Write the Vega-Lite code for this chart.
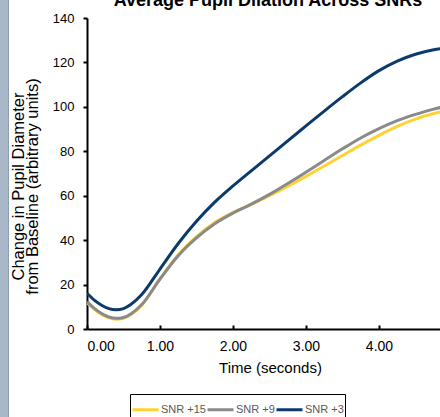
{
  "$schema": "https://vega.github.io/schema/vega-lite/v6.json",
  "autosize": "none",
  "width": 353,
  "height": 311,
  "padding": {"left": 87, "top": 18, "right": 0, "bottom": 88},
  "background": "white",
  "config": {"view": {"stroke": null}, "font": "Liberation Sans"},
  "title": {
    "text": "Average Pupil Dilation Across SNRs",
    "anchor": "middle",
    "baseline": "alphabetic",
    "offset": -29,
    "dx": 4.5,
    "fontSize": 18,
    "font": "Liberation Sans",
    "fontWeight": "bold",
    "color": "black"
  },
  "layer": [
    {
      "data": {"values": [{"k": 1}]},
      "mark": {"type": "rect", "clip": false, "color": "#A9B8C8", "stroke": "#8E9DAE", "strokeWidth": 1},
      "encoding": {
        "x": {"datum": -1.3, "type": "quantitative", "scale": {"domain": [0, 4.836], "nice": false}},
        "x2": {"datum": -1.075},
        "y": {"datum": 150, "type": "quantitative", "scale": {"domain": [0, 140], "nice": false}},
        "y2": {"datum": -45}
      }
    },
    {
      "data": {"values": [
        {"t": 0, "v": 11.8, "s": "SNR +15"}, {"t": 0.1, "v": 8.9, "s": "SNR +15"}, {"t": 0.2, "v": 6.6, "s": "SNR +15"}, {"t": 0.3, "v": 5.0, "s": "SNR +15"}, {"t": 0.4, "v": 4.4, "s": "SNR +15"}, {"t": 0.5, "v": 4.8, "s": "SNR +15"}, {"t": 0.6, "v": 6.4, "s": "SNR +15"}, {"t": 0.75, "v": 10.6, "s": "SNR +15"}, {"t": 1.0, "v": 22.6, "s": "SNR +15"}, {"t": 1.25, "v": 33.4, "s": "SNR +15"}, {"t": 1.5, "v": 41.6, "s": "SNR +15"}, {"t": 1.75, "v": 47.9, "s": "SNR +15"}, {"t": 2.0, "v": 52.4, "s": "SNR +15"}, {"t": 2.25, "v": 56.1, "s": "SNR +15"}, {"t": 2.5, "v": 60.0, "s": "SNR +15"}, {"t": 2.75, "v": 64.3, "s": "SNR +15"}, {"t": 3.0, "v": 68.7, "s": "SNR +15"}, {"t": 3.25, "v": 73.4, "s": "SNR +15"}, {"t": 3.5, "v": 78.1, "s": "SNR +15"}, {"t": 3.75, "v": 82.8, "s": "SNR +15"}, {"t": 4.0, "v": 87.2, "s": "SNR +15"}, {"t": 4.25, "v": 91.2, "s": "SNR +15"}, {"t": 4.5, "v": 94.5, "s": "SNR +15"}, {"t": 4.75, "v": 97.0, "s": "SNR +15"}, {"t": 5.0, "v": 98.8, "s": "SNR +15"},
        {"t": 0, "v": 12.3, "s": "SNR +9"}, {"t": 0.1, "v": 9.3, "s": "SNR +9"}, {"t": 0.2, "v": 7.0, "s": "SNR +9"}, {"t": 0.3, "v": 5.4, "s": "SNR +9"}, {"t": 0.4, "v": 4.8, "s": "SNR +9"}, {"t": 0.5, "v": 5.2, "s": "SNR +9"}, {"t": 0.6, "v": 6.8, "s": "SNR +9"}, {"t": 0.75, "v": 11.0, "s": "SNR +9"}, {"t": 1.0, "v": 22.5, "s": "SNR +9"}, {"t": 1.25, "v": 33.0, "s": "SNR +9"}, {"t": 1.5, "v": 41.0, "s": "SNR +9"}, {"t": 1.75, "v": 47.4, "s": "SNR +9"}, {"t": 2.0, "v": 52.2, "s": "SNR +9"}, {"t": 2.25, "v": 56.2, "s": "SNR +9"}, {"t": 2.5, "v": 60.6, "s": "SNR +9"}, {"t": 2.75, "v": 65.5, "s": "SNR +9"}, {"t": 3.0, "v": 70.6, "s": "SNR +9"}, {"t": 3.25, "v": 75.9, "s": "SNR +9"}, {"t": 3.5, "v": 81.1, "s": "SNR +9"}, {"t": 3.75, "v": 86.0, "s": "SNR +9"}, {"t": 4.0, "v": 90.2, "s": "SNR +9"}, {"t": 4.25, "v": 93.8, "s": "SNR +9"}, {"t": 4.5, "v": 96.6, "s": "SNR +9"}, {"t": 4.75, "v": 99.0, "s": "SNR +9"}, {"t": 5.0, "v": 100.8, "s": "SNR +9"},
        {"t": 0, "v": 16.1, "s": "SNR +3"}, {"t": 0.1, "v": 13.0, "s": "SNR +3"}, {"t": 0.2, "v": 10.7, "s": "SNR +3"}, {"t": 0.3, "v": 9.2, "s": "SNR +3"}, {"t": 0.4, "v": 8.7, "s": "SNR +3"}, {"t": 0.5, "v": 9.2, "s": "SNR +3"}, {"t": 0.6, "v": 11.0, "s": "SNR +3"}, {"t": 0.75, "v": 15.5, "s": "SNR +3"}, {"t": 1.0, "v": 27.0, "s": "SNR +3"}, {"t": 1.25, "v": 38.5, "s": "SNR +3"}, {"t": 1.5, "v": 48.5, "s": "SNR +3"}, {"t": 1.75, "v": 57.1, "s": "SNR +3"}, {"t": 2.0, "v": 64.4, "s": "SNR +3"}, {"t": 2.25, "v": 71.2, "s": "SNR +3"}, {"t": 2.5, "v": 77.9, "s": "SNR +3"}, {"t": 2.75, "v": 84.7, "s": "SNR +3"}, {"t": 3.0, "v": 91.4, "s": "SNR +3"}, {"t": 3.25, "v": 98.1, "s": "SNR +3"}, {"t": 3.5, "v": 104.6, "s": "SNR +3"}, {"t": 3.75, "v": 110.8, "s": "SNR +3"}, {"t": 4.0, "v": 116.3, "s": "SNR +3"}, {"t": 4.25, "v": 120.6, "s": "SNR +3"}, {"t": 4.5, "v": 123.7, "s": "SNR +3"}, {"t": 4.75, "v": 125.7, "s": "SNR +3"}, {"t": 5.0, "v": 126.9, "s": "SNR +3"}
      ]},
      "mark": {"type": "line", "clip": true, "strokeWidth": 3, "interpolate": "monotone"},
      "encoding": {
        "x": {
          "field": "t", "type": "quantitative",
          "scale": {"domain": [0, 4.836], "nice": false},
          "axis": {
            "values": [0, 1, 2, 3, 4], "format": ".2f", "grid": false,
            "domainColor": "black", "domainWidth": 2, "tickColor": "black", "tickWidth": 2, "tickSize": -4,
            "labelFontSize": 14, "labelColor": "black", "labelPadding": 14, "labelFont": "Liberation Sans",
            "title": "Time (seconds)", "titleFontSize": 15, "titleFontWeight": "normal", "titleColor": "black",
            "titleFont": "Liberation Sans", "titleX": 183, "titleY": 31, "titleBaseline": "top", "titleAlign": "center"
          }
        },
        "y": {
          "field": "v", "type": "quantitative",
          "scale": {"domain": [0, 140], "nice": false},
          "axis": {
            "values": [0, 20, 40, 60, 80, 100, 120, 140], "grid": false,
            "domainColor": "black", "domainWidth": 2, "tickColor": "black", "tickWidth": 2, "tickSize": 4,
            "labelFontSize": 13, "labelColor": "black", "labelPadding": 9, "labelFont": "Liberation Sans",
            "title": ["Change in Pupil Diameter", "from Baseline (arbitrary units)"],
            "titleFontSize": 16.5, "titleFontWeight": "normal", "titleColor": "black", "titleFont": "Liberation Sans",
            "titleX": -68.5, "titleY": 168, "titleAngle": -90, "titleAlign": "center", "titleBaseline": "middle", "titleLineHeight": 14
          }
        },
        "color": {
          "field": "s", "type": "nominal",
          "scale": {"domain": ["SNR +15", "SNR +9", "SNR +3"], "range": ["#FFD234", "#8A8A8A", "#0B3A6B"]},
          "legend": {
            "title": null,
            "orient": "none", "legendX": 43, "legendY": 376, "direction": "horizontal",
            "symbolType": "stroke", "symbolSize": 676, "symbolStrokeWidth": 3,
            "labelFontSize": 11, "labelColor": "#595959", "labelFont": "Liberation Sans", "labelOffset": 1,
            "columnPadding": -7, "padding": 1, "strokeColor": "black", "fillColor": "white", "cornerRadius": 0
          }
        }
      }
    }
  ]
}
